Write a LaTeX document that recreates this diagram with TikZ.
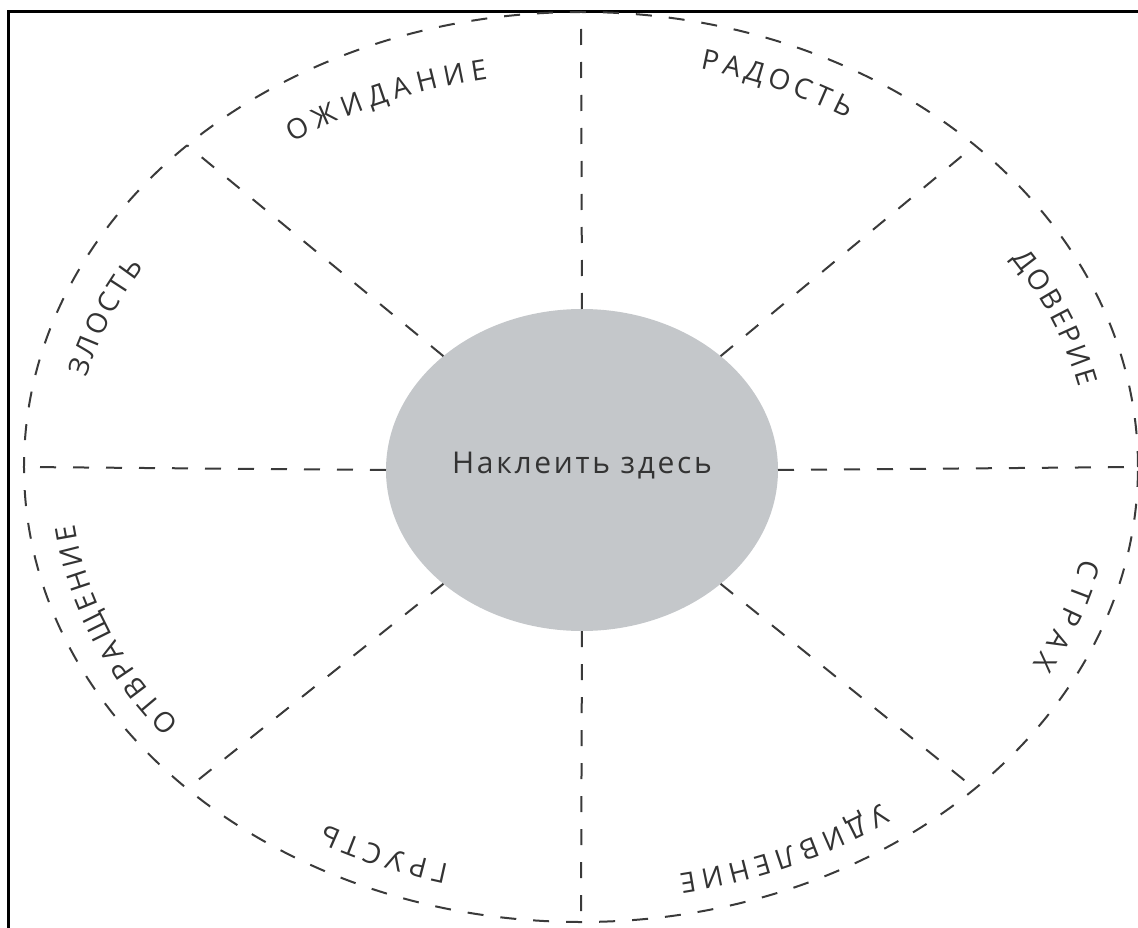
\documentclass[tikz,border=0pt]{standalone}
\usepackage{fontspec}
\setmainfont{Open Sans}
\newfontfamily\stickerfont[LetterSpace=9]{Open Sans}
\usetikzlibrary{shapes.geometric,decorations.text}
\definecolor{ink}{HTML}{3A3A3A}
\definecolor{word}{HTML}{333333}
\definecolor{stickergray}{HTML}{C4C7CA}
\newcommand{\lblfont}{\fontsize{28}{32}\selectfont}

\begin{document}
\begin{tikzpicture}[x=1pt, y=1pt]
  \tikzset{dash line/.style={ink, line width=2pt, dash pattern=on 16pt off 17pt},
           frame line/.style={black, line width=3pt},
           label arc/.style={decorate, decoration={text along path, text align={fit to path},
                             text={|\lblfont\color{word}|#1}}}}

  \useasboundingbox (-581,-460) rectangle (557,467);

  % Frame, left and top edges
  \draw[frame line] (-572,-470) |- (570,455);

  % Outer dashed ellipse
  \draw[dash line] (0,0) ellipse[x radius=557, y radius=455];

  % Grey sticker spot in the middle
  \node[ellipse, fill=stickergray, minimum width=392pt, minimum height=322pt, inner sep=0pt] (sticker) at (1,-3) {};
  \node[text=word, font=\stickerfont\fontsize{30}{34}\selectfont] (hint) at (1,1) {Наклеить здесь};

  % Eight dashed spokes
  \foreach \a in {0,45,...,315}{
    \path (sticker.center) ++(\a:196 and 161) coordinate (in\a);
    \path (0,0) ++(\a:557 and 455) coordinate (out\a);
    \draw[dash line] (in\a) -- (out\a);
  }

  % Emotion names along the rim (text ellipse a little lower than the rim)
  \coordinate (rim) at (0,-8);
  \path[label arc=ОЖИДАНИЕ] (rim) ++(124.5:510 and 403) arc[start angle=124.5, end angle=100.5, x radius=510, y radius=403];
  \path[label arc=РАДОСТЬ] (rim) ++(76.5:510 and 418) arc[start angle=76.5, end angle=58.5, x radius=510, y radius=418];
  \path[label arc=ДОВЕРИЕ] (rim) ++(32.5:510 and 403) arc[start angle=32.5, end angle=12.5, x radius=510, y radius=403];
  \path[label arc=СТРАХ] (rim) ++(-12:512 and 403) arc[start angle=-12, end angle=-28, x radius=512, y radius=403];
  \path[label arc=УДИВЛЕНИЕ] (rim) ++(-54:512 and 406) arc[start angle=-54, end angle=-79, x radius=512, y radius=406];
  \path[label arc=ГРУСТЬ] (rim) ++(-105:510 and 403) arc[start angle=-105, end angle=-120, x radius=510, y radius=403];
  \path[label arc=ОТВРАЩЕНИЕ] (rim) ++(218:510 and 403) arc[start angle=218, end angle=187, x radius=510, y radius=403];
  \path[label arc=ЗЛОСТЬ] (rim) ++(166:510 and 403) arc[start angle=166, end angle=149, x radius=510, y radius=403];

\end{tikzpicture}
\end{document}
